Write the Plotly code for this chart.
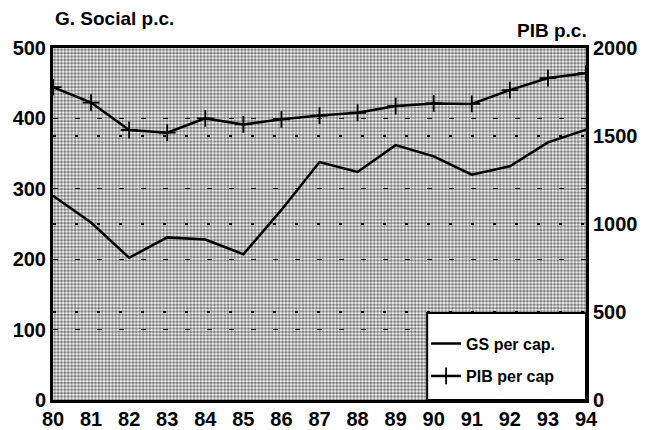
import plotly.graph_objects as go

years = list(range(80, 95))
year_labels = [str(y) for y in years]
gs_per_cap = [290, 252, 202, 231, 228, 207, 270, 338, 324, 362, 346, 320, 332, 366, 384]
pib_per_cap = [1778, 1690, 1534, 1519, 1600, 1566, 1595, 1616, 1632, 1670, 1685, 1682, 1761, 1829, 1857]
left_ticks = [0, 100, 200, 300, 400, 500]
right_ticks = [0, 500, 1000, 1500, 2000]

X_RANGE = [80, 94]
YL_RANGE = [0, 500]
YR_RANGE = [0, 2000]

FONT = "Liberation Sans"
tick_font = dict(family=FONT, size=20, weight="bold", color="black")

fig = go.Figure()

# dotted background texture
fig.add_trace(go.Scatter(
    x=[X_RANGE[0], X_RANGE[1], X_RANGE[1], X_RANGE[0], X_RANGE[0]],
    y=[YL_RANGE[0], YL_RANGE[0], YL_RANGE[1], YL_RANGE[1], YL_RANGE[0]],
    mode="none", fill="toself", fillcolor="rgba(0,0,0,0)",
    fillpattern=dict(shape=".", size=3.4, solidity=0.65, fgcolor="black", bgcolor="rgba(0,0,0,0)"),
    showlegend=False, hoverinfo="skip"))

fig.add_trace(go.Scatter(
    x=years, y=gs_per_cap, mode="lines", name="GS per cap.",
    line=dict(color="black", width=2.5), legend="legend"))

fig.add_trace(go.Scatter(
    x=years, y=pib_per_cap, mode="lines+markers", name="PIB per cap",
    yaxis="y2", legend="legend2",
    line=dict(color="black", width=2.5),
    marker=dict(symbol="cross-thin", size=12, line=dict(color="black", width=1.8))))

legend_common = dict(xanchor="left", yanchor="middle", bgcolor="rgba(0,0,0,0)",
                     borderwidth=0, font=dict(family=FONT, size=16, weight="bold", color="black"),
                     itemwidth=30)

fig.update_layout(
    width=645, height=430,
    margin=dict(l=45, r=67, t=40, b=38, autoexpand=False),
    plot_bgcolor="white", paper_bgcolor="white",
    font=dict(family=FONT, color="black", size=17),
    xaxis=dict(range=X_RANGE, tickvals=years, ticktext=year_labels,
               showgrid=False, showline=True, linecolor="black", linewidth=3,
               mirror=True, ticks="", zeroline=False, automargin=False,
               ticklabelstandoff=-1, tickfont=tick_font),
    yaxis=dict(range=YL_RANGE, tickvals=left_ticks,
               showgrid=True, gridcolor="black", gridwidth=1.2, griddash="5px,17px",
               showline=True, linecolor="black", linewidth=3, ticks="",
               zeroline=False, automargin=False, tickfont=tick_font),
    yaxis2=dict(range=YR_RANGE, tickvals=right_ticks, overlaying="y", side="right",
                showgrid=True, gridcolor="black", gridwidth=2, griddash="3px,19px",
                showline=True, linecolor="black", linewidth=3, ticks="",
                zeroline=False, automargin=False, tickfont=tick_font),
    legend=dict(x=0.70, y=0.16, **legend_common),
    legend2=dict(x=0.70, y=0.068, **legend_common),
    showlegend=True,
    shapes=[dict(type="rect", xref="paper", yref="paper", x0=0.702, x1=1.0, y0=0.0, y1=0.247,
                 fillcolor="white", line=dict(color="black", width=2), layer="above")],
    annotations=[
        dict(text="G. Social p.c.", x=0.0, y=1.085, xref="paper", yref="paper",
             xanchor="left", yanchor="middle", showarrow=False,
             font=dict(family=FONT, size=19, weight="bold")),
        dict(text="PIB p.c.", x=1.005, y=1.05, xref="paper", yref="paper",
             xanchor="right", yanchor="middle", showarrow=False,
             font=dict(family=FONT, size=19, weight="bold")),
    ],
)

fig.write_html("out.html")
